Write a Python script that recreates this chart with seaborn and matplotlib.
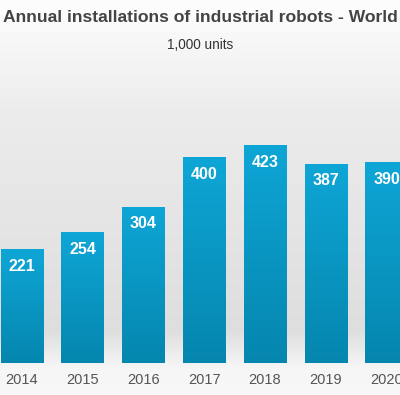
import numpy as np
import pandas as pd
import matplotlib
matplotlib.use("Agg")
import matplotlib.pyplot as plt
from matplotlib.colors import LinearSegmentedColormap
import seaborn as sns

# Datos
years = ["2014", "2015", "2016", "2017", "2018", "2019", "2020"]
installs = [221, 254, 304, 400, 423, 387, 390]

TITLE = "Annual installations of industrial robots - World"
SUBTITLE = "1,000 units"

sns.set_theme(style="white")
plt.rcParams["font.family"] = ["Liberation Sans", "DejaVu Sans"]

df = pd.DataFrame({"year": years, "units": installs})

fig = plt.figure(figsize=(4.0, 3.95), dpi=100)
ax = fig.add_axes([0, 0, 1, 1])

# fondo degradado (gris claro en el centro, blanco arriba y abajo)
bg = LinearSegmentedColormap.from_list(
    "bg", [(0.0, "#f7f7f7"), (0.12, "#fdfdfd"), (0.35, "#ececec"),
           (0.82, "#dedede"), (0.9, "#f6f6f6"), (1.0, "#f9f9f9")])
grad = np.linspace(0, 1, 256).reshape(-1, 1)
ax.imshow(grad, cmap=bg, aspect="auto", extent=(-1, 8, -100, 800),
          origin="upper", zorder=0)

sns.barplot(data=df, x="year", y="units", ax=ax, width=0.70,
            color="#0a9acb", saturation=1, zorder=2)

ax.set_xlim(-0.36, 6.22)
ax.set_ylim(-62, 705)

# degradado de cada barra
bar_cmap = LinearSegmentedColormap.from_list("bar", ["#0586ae", "#0ea6d6"])
for patch in ax.patches:
    x0, y0 = patch.get_x(), patch.get_y()
    w, h = patch.get_width(), patch.get_height()
    patch.set_facecolor("none")
    patch.set_edgecolor("none")
    im = ax.imshow(grad, cmap=bar_cmap, aspect="auto",
                   extent=(x0, x0 + w, y0, y0 + h), origin="lower", zorder=3)
    im.set_clip_path(patch)

# etiquetas de valores
for i, v in enumerate(installs):
    ax.text(i, v - 33, f"{v}", ha="center", va="center", color="white",
            fontsize=11.5, fontweight="bold", zorder=4)

# etiquetas de años
for i, yr in enumerate(years):
    ax.text(i, -33, yr, ha="center", va="center", color="#555555",
            fontsize=10.5, zorder=4)

ax.set_axis_off()

fig.text(0.5, 1 - 18 / 395, TITLE, ha="center", va="center",
         fontsize=12.6, fontweight="bold", color="#444444")
fig.text(0.5, 1 - 45 / 395, SUBTITLE, ha="center", va="center",
         fontsize=9.8, color="#333333")

fig.savefig("out.png", dpi=100)
plt.close(fig)
